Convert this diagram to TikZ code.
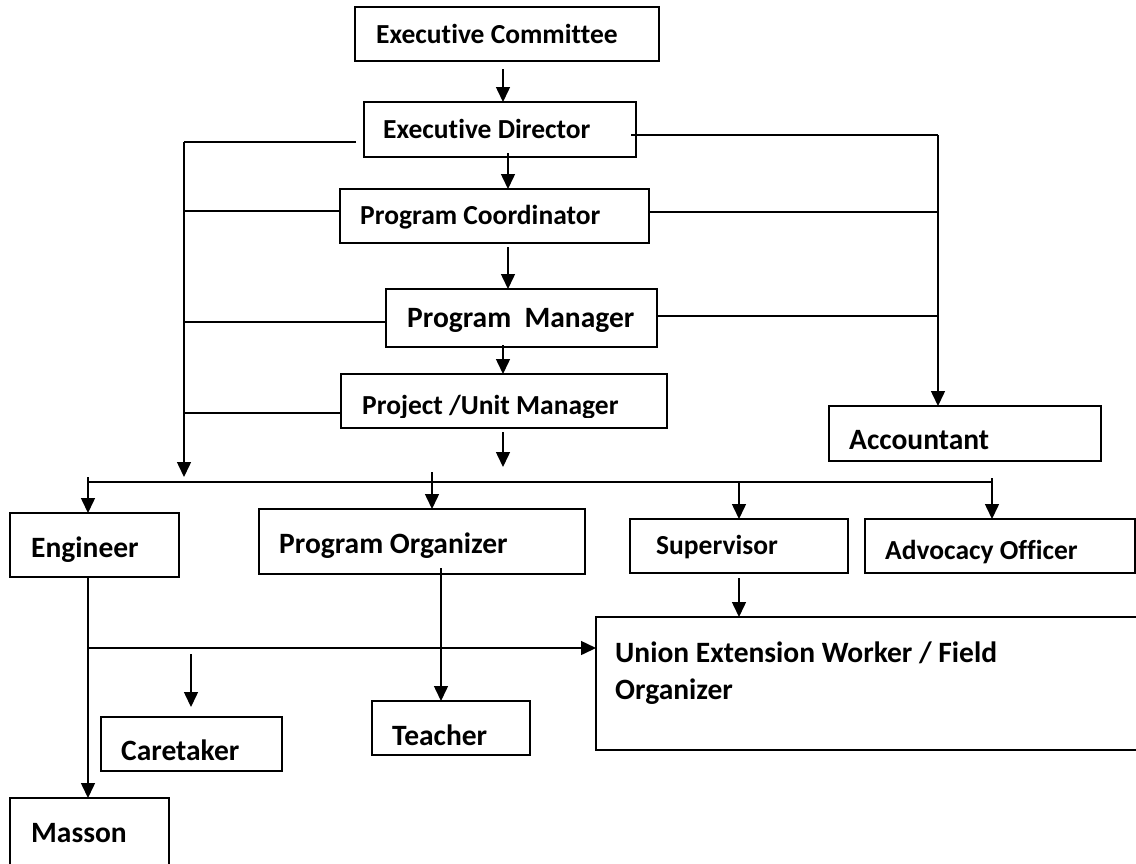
\documentclass[tikz,border=0pt]{standalone}
\usepackage{fontspec}
\setmainfont{Carlito}[Ligatures=NoCommon]
\usetikzlibrary{arrows.meta}
\begin{document}
\begin{tikzpicture}[x=1pt,y=-1pt,
  box/.style={draw, line width=1.5pt, inner sep=0pt, outer sep=0pt},
  lbl/.style={anchor=base west, inner sep=0pt, font=\bfseries\fontsize{27.5}{33}\selectfont},
  lblb/.style={lbl, font=\bfseries\fontsize{29.5}{36}\selectfont},
  conn/.style={line width=1.5pt},
  arr/.style={conn, -{Triangle[length=15pt,width=14pt]}}]
\useasboundingbox (0,0) rectangle (1136,863);

% boxes
\node[box, minimum width=304pt, minimum height=54pt] (ec) at (507,34) {};
\node[box, minimum width=272pt, minimum height=55pt] (ed) at (500,129.5) {};
\node[box, minimum width=309pt, minimum height=54pt] (pc) at (494.5,216) {};
\node[box, minimum width=271pt, minimum height=58pt] (pm) at (521.5,318) {};
\node[box, minimum width=326pt, minimum height=54pt] (pum) at (504,401) {};
\node[box, minimum width=272pt, minimum height=55pt] (acc) at (965,433.5) {};
\node[box, minimum width=169pt, minimum height=64pt] (eng) at (94.5,545) {};
\node[box, minimum width=326pt, minimum height=65pt] (po) at (422,541.5) {};
\node[box, minimum width=218pt, minimum height=54pt] (sup) at (739,546) {};
\node[box, minimum width=270pt, minimum height=54pt] (adv) at (1000,546) {};
\node[box, minimum width=544pt, minimum height=133pt] (uew) at (868,683.5) {};
\node[box, minimum width=158pt, minimum height=54pt] (tea) at (451,728) {};
\node[box, minimum width=181pt, minimum height=54pt] (car) at (191.5,744) {};
\node[box, minimum width=159pt, minimum height=82pt] (mas) at (89.5,839) {};

% labels
\node[lbl] (ect) at (376,43) {Executive Committee};
\node[lbl] (edt) at (383,138) {Executive Director};
\node[lbl] (pct) at (360,224) {Program Coordinator};
\node[lblb] (pmt) at (407,327) {Program\ \ Manager};
\begin{scope}
\clip (341,374) rectangle (667,417);
\node[lbl] (pumt) at (362,414) {Project /Unit Manager};
\end{scope}
\node[lblb] (acct) at (849,449) {Accountant};
\node[lblb] (engt) at (31,557) {Engineer};
\node[lblb] (pot) at (279,553) {Program Organizer};
\node[lbl] (supt) at (656,554) {Supervisor};
\node[lbl] (advt) at (885,559) {Advocacy Officer};
\node[lblb] (uewt) at (615,662) {Union Extension Worker / Field};
\node[lblb] (uewt2) at (615,699) {Organizer};
\node[lblb] (teat) at (392,745) {Teacher};
\node[lblb] (cart) at (121,760) {Caretaker};
\node[lblb] (mast) at (31,842) {Masson};

% free-end coordinates
\coordinate (ecout) at (503,69);
\coordinate (edout) at (508,153);
\coordinate (pcout) at (508,247);
\coordinate (pmout) at (503,345);
\coordinate (pumout) at (503,432);
\coordinate (pumtip) at (503,467);
\coordinate (edleft) at (356,142);
\coordinate (lcorner) at (184,142);
\coordinate (ltip) at (184,477);
\coordinate (edright) at (631,135);
\coordinate (rcorner) at (938,135);
\coordinate (busL) at (88,482);
\coordinate (busR) at (992,482);
\coordinate (potick) at (432,472);
\coordinate (advtick) at (992,478);
\coordinate (engtick) at (88,477);
\coordinate (poout) at (441,568);
\coordinate (supout) at (739,578);
\coordinate (engbranch) at (88,648);
\coordinate (carfrom) at (191,654);
\coordinate (carto) at (191,707);

% main chain
\draw[arr] (ecout) -- (ecout |- ed.north);
\draw[arr] (edout) -- (edout |- pc.north);
\draw[arr] (pcout) -- (pcout |- pm.north);
\draw[arr] (pmout) -- (pmout |- pum.north);
\draw[arr] (pumout) -- (pumtip);

% left collector
\draw[conn] (edleft) -- (lcorner);
\draw[arr] (lcorner) -- (ltip);
\draw[conn] (pc.west |- 0,211) -- (lcorner |- 0,211);
\draw[conn] (pm.west |- 0,322) -- (lcorner |- 0,322);
\draw[conn] (pum.west |- 0,413) -- (lcorner |- 0,413);

% right collector
\draw[conn] (edright) -- (rcorner);
\draw[arr] (rcorner) -- (rcorner |- acc.north);
\draw[conn] (pc.east |- 0,212) -- (rcorner |- 0,212);
\draw[conn] (pm.east |- 0,316) -- (rcorner |- 0,316);

% bus
\draw[conn] (busL) -- (busR);
\draw[arr] (engtick) -- (engtick |- eng.north);
\draw[arr] (potick) -- (potick |- po.north);
\draw[arr] (sup.north |- busL) -- (sup.north);
\draw[arr] (advtick) -- (advtick |- adv.north);

% lower connections
\draw[arr] (poout) -- (poout |- tea.north);
\draw[arr] (supout) -- (supout |- uew.north);
\draw[arr] (engbranch |- eng.south) -- (engbranch |- mas.north);
\draw[arr] (engbranch) -- (engbranch -| uew.west);
\draw[arr] (carfrom) -- (carto);
\end{tikzpicture}
\end{document}
